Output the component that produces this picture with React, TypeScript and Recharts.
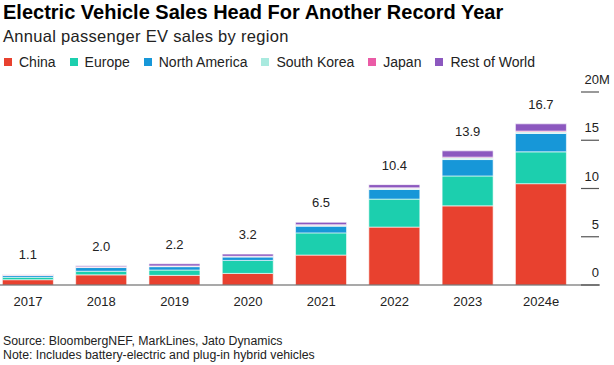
import React from 'react';
import { Bar, BarChart, LabelList, XAxis, YAxis } from 'recharts';

const years = ['2017', '2018', '2019', '2020', '2021', '2022', '2023', '2024e'];
const china = [0.55, 1.05, 1.0, 1.2, 3.1, 6.0, 8.2, 10.5];
const europe = [0.25, 0.38, 0.55, 1.35, 2.3, 2.9, 3.1, 3.3];
const northAmerica = [0.2, 0.38, 0.35, 0.35, 0.7, 1.0, 1.7, 1.9];
const southKorea = [0.02, 0.03, 0.05, 0.05, 0.1, 0.12, 0.15, 0.15];
const japan = [0.05, 0.05, 0.03, 0.03, 0.05, 0.05, 0.1, 0.1];
const restOfWorld = [0.03, 0.11, 0.22, 0.22, 0.25, 0.33, 0.65, 0.75];
const totals = [1.1, 2.0, 2.2, 3.2, 6.5, 10.4, 13.9, 16.7];
const yTicks = [0, 5, 10, 15, 20];

const series = [
  { key: 'china', name: 'China', color: '#e8412f' },
  { key: 'europe', name: 'Europe', color: '#1ccfae' },
  { key: 'northAmerica', name: 'North America', color: '#1797d8' },
  { key: 'southKorea', name: 'South Korea', color: '#a9eadf' },
  { key: 'japan', name: 'Japan', color: '#ea5ba6' },
  { key: 'restOfWorld', name: 'Rest of World', color: '#8c58bf' },
];

const data = years.map((year, i) => ({
  year,
  china: china[i],
  europe: europe[i],
  northAmerica: northAmerica[i],
  southKorea: southKorea[i],
  japan: japan[i],
  restOfWorld: restOfWorld[i],
  total: totals[i],
}));

const FONT = '"Liberation Sans", Arial, sans-serif';

function YTick(props: any) {
  const { x, y, payload } = props;
  return (
    <g>
      <line x1={x - 19} x2={x - 1} y1={y} y2={y} stroke="#555" strokeWidth={1.2} />
      <text x={x - 1} y={y - 8} textAnchor="end" fontSize={13} fill="#222" fontFamily={FONT}>
        {payload.value}
      </text>
      {payload.value === 20 && (
        <text x={x - 1} y={y - 8} textAnchor="start" fontSize={13} fill="#222" fontFamily={FONT}>
          M
        </text>
      )}
    </g>
  );
}

function XTick(props: any) {
  const { x, y, payload } = props;
  return (
    <text x={x} y={y + 19} textAnchor="middle" fontSize={13} fill="#222" fontFamily={FONT}>
      {payload.value}
    </text>
  );
}

function TotalLabel(props: any) {
  const { x, y, width, value } = props;
  return (
    <text x={x + width / 2} y={y - 15} textAnchor="middle" fontSize={13} fill="#222" fontFamily={FONT}>
      {Number(value).toFixed(1)}
    </text>
  );
}

export default function App() {
  return (
    <div style={{ position: 'absolute', left: 0, top: 0, width: 614, height: 365, background: '#fff', fontFamily: FONT, color: '#111' }}>
      <div style={{ position: 'absolute', left: 3, top: 2.1, fontSize: 20, lineHeight: '20px', fontWeight: 700, color: '#000', whiteSpace: 'nowrap' }}>
        Electric Vehicle Sales Head For Another Record Year
      </div>
      <div style={{ position: 'absolute', left: 3, top: 28.3, fontSize: 16.5, lineHeight: '16.5px', letterSpacing: 0.3, color: '#222', whiteSpace: 'nowrap' }}>
        Annual passenger EV sales by region
      </div>
      <div style={{ position: 'absolute', left: 4, top: 54.6, display: 'flex', fontSize: 14, lineHeight: '14px', color: '#222', whiteSpace: 'nowrap' }}>
        {series.map((s) => (
          <div key={s.key} style={{ display: 'flex', alignItems: 'center', marginRight: 14 }}>
            <span style={{ display: 'inline-block', width: 8, height: 8, background: s.color, marginRight: 7 }} />
            {s.name}
          </div>
        ))}
      </div>
      <div style={{ position: 'absolute', left: 0, top: 0 }}>
        <BarChart width={614} height={365} data={data} margin={{ top: 92, right: 0, bottom: 50, left: 0 }} barCategoryGap="15%">
          <XAxis
            dataKey="year"
            height={30}
            padding={{ left: -8.6, right: 22.3 }}
            axisLine={{ stroke: '#555', strokeWidth: 1.2 }}
            tickLine={false}
            tickSize={0}
            tick={<XTick />}
            interval={0}
          />
          <YAxis
            orientation="right"
            width={14}
            domain={[0, 20]}
            ticks={yTicks}
            axisLine={false}
            tickLine={false}
            tickSize={0}
            tickMargin={0}
            tick={<YTick />}
          />
          {series.map((s, idx) => (
            <Bar key={s.key} dataKey={s.key} stackId="ev" fill={s.color} stroke="#fff" strokeWidth={0.6} isAnimationActive={false}>
              {idx === series.length - 1 && <LabelList dataKey="total" content={<TotalLabel />} />}
            </Bar>
          ))}
        </BarChart>
      </div>
      <div style={{ position: 'absolute', left: 3, top: 335.3, fontSize: 12.3, lineHeight: '12.3px', color: '#222', whiteSpace: 'nowrap' }}>
        Source: BloombergNEF, MarkLines, Jato Dynamics
      </div>
      <div style={{ position: 'absolute', left: 3, top: 348.9, fontSize: 12.3, lineHeight: '12.3px', color: '#222', whiteSpace: 'nowrap' }}>
        Note: Includes battery-electric and plug-in hybrid vehicles
      </div>
    </div>
  );
}
